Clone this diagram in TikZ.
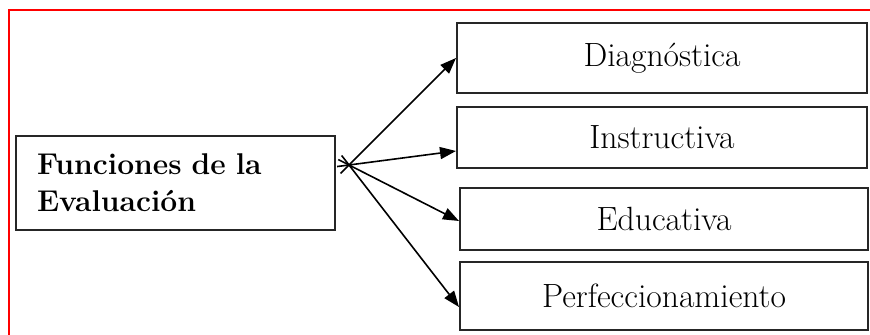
\documentclass[tikz,border=0pt]{standalone}
\usepackage{tikz}
\usetikzlibrary{arrows.meta, calc}
\tikzset{
	funcbox/.style={draw=black!85, line width=1pt, inner sep=0pt, font=\fontsize{16.8}{19}\selectfont},
	arr/.style={-{Triangle[length=8pt,width=6pt]}, line width=0.8pt, shorten <=-6pt},
}

\begin{document}
\begin{tikzpicture}[x=0.5pt, y=-0.5pt]
	\useasboundingbox (0,0) rectangle (870,335);
	\draw[red, line width=1pt] (9,345) -- (9,10) -- (880,10);

	\node[funcbox, minimum width=159.5pt, minimum height=47pt, text width=138.5pt, inner xsep=10.5pt, align=left, font=\fontsize{15}{18.5}\selectfont\bfseries] (A) at (175.5,183) {Funciones de la\\Evaluación};

	\node[funcbox, minimum width=205pt, minimum height=35pt] (B1) at (662,58) {Diagnóstica};
	\node[funcbox, minimum width=205pt, minimum height=30.5pt] (B2) at (662,137.5) {Instructiva};
	\node[funcbox, minimum width=204pt, minimum height=31pt] (B3) at (664,219) {Educativa};
	\node[funcbox, minimum width=204pt, minimum height=34pt] (B4) at (664,296) {Perfeccionamiento};

	\coordinate (H) at ($(A.east)+(13,-18)$);

	\draw[arr] (H) -- (B1.west);
	\draw[arr] (H) -- ([yshift=-6.75pt]B2.west);
	\draw[arr] (H) -- ([yshift=-1pt]B3.west);
	\draw[arr] (H) -- ([yshift=-5.5pt]B4.west);
\end{tikzpicture}
\end{document}
